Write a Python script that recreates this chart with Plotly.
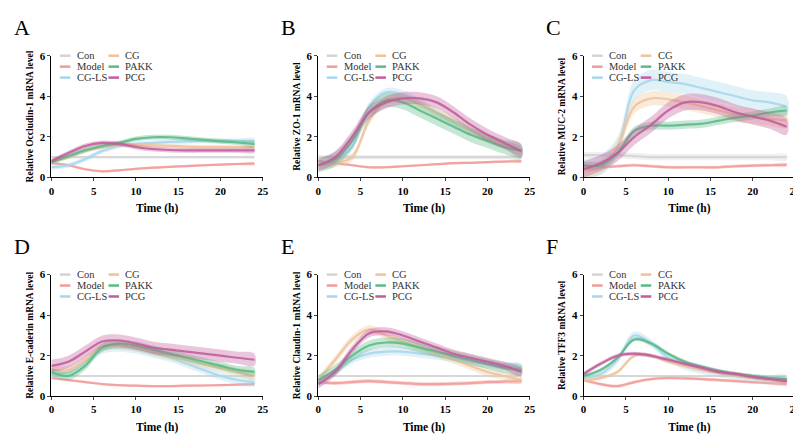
import plotly.graph_objects as go

TIME = [0, 2, 4, 6, 8, 10, 12, 14, 16, 18, 20, 22, 24]
GROUPS = ['Con', 'Model', 'CG-LS', 'CG', 'PAKK', 'PCG']
COLORS = {
    'Con': '#d4d4d4', 'Model': '#f19c99', 'CG-LS': '#a9d6ec',
    'CG': '#eec39a', 'PAKK': '#5cba88', 'PCG': '#c25d9c',
}
LETTERS = ['A', 'B', 'C', 'D', 'E', 'F']
GENES = ['Occludin-1', 'ZO-1', 'MUC-2', 'E-caderin', 'Claudin-1', 'TFF3']

CON = [1] * 13

occludin = {
    'Con': CON,
    'Model': [0.7, 0.6, 0.4, 0.3, 0.35, 0.42, 0.48, 0.52, 0.56, 0.6, 0.63, 0.66, 0.68],
    'CG-LS': [0.5, 0.6, 0.9, 1.3, 1.55, 1.65, 1.7, 1.75, 1.78, 1.8, 1.8, 1.8, 1.8],
    'CG': [0.8, 1.0, 1.3, 1.5, 1.6, 1.6, 1.58, 1.55, 1.52, 1.5, 1.5, 1.5, 1.5],
    'PAKK': [0.75, 1.05, 1.35, 1.55, 1.7, 1.9, 1.98, 1.98, 1.92, 1.85, 1.78, 1.72, 1.65],
    'PCG': [0.8, 1.2, 1.55, 1.7, 1.65, 1.5, 1.4, 1.35, 1.33, 1.33, 1.33, 1.33, 1.33],
}
zo1 = {
    'Con': CON,
    'Model': [0.8, 0.7, 0.6, 0.5, 0.5, 0.55, 0.6, 0.65, 0.7, 0.72, 0.75, 0.78, 0.8],
    'CG-LS': [0.6, 0.8, 1.5, 3.5, 4.2, 4.1, 3.7, 3.2, 2.7, 2.3, 1.9, 1.6, 1.3],
    'CG': [0.6, 0.7, 1.0, 2.8, 3.8, 3.9, 3.6, 3.2, 2.8, 2.3, 1.9, 1.6, 1.3],
    'PAKK': [0.6, 0.9, 1.8, 3.2, 3.8, 3.7, 3.3, 2.9, 2.5, 2.1, 1.8, 1.5, 1.3],
    'PCG': [0.6, 1.0, 2.0, 3.2, 3.7, 3.9, 3.9, 3.7, 3.2, 2.6, 2.1, 1.7, 1.3],
}
muc2 = {
    'Con': [1.1, 1.1, 1.1, 1.05, 1, 1, 1, 1, 1, 1, 1, 1, 1],
    'Model': [0.5, 0.5, 0.55, 0.6, 0.55, 0.5, 0.5, 0.5, 0.5, 0.55, 0.58, 0.6, 0.62],
    'CG-LS': [0.4, 0.6, 1.5, 4.3, 4.8, 4.7, 4.6, 4.4, 4.2, 4.0, 3.8, 3.7, 3.5],
    'CG': [0.3, 0.5, 1.5, 3.5, 3.9, 3.85, 3.7, 3.5, 3.3, 3.1, 3.0, 2.9, 2.8],
    'PAKK': [0.6, 0.6, 1.2, 2.3, 2.55, 2.55, 2.6, 2.65, 2.8, 2.95, 3.05, 3.2, 3.3],
    'PCG': [0.4, 0.7, 1.2, 2.0, 2.6, 3.3, 3.7, 3.7, 3.5, 3.2, 3.0, 2.8, 2.5],
}
ecad = {
    'Con': CON,
    'Model': [0.9, 0.8, 0.7, 0.6, 0.55, 0.52, 0.5, 0.5, 0.52, 0.53, 0.55, 0.57, 0.6],
    'CG-LS': [1.1, 1.2, 1.7, 2.3, 2.4, 2.3, 2.1, 1.9, 1.6, 1.3, 1.0, 0.8, 0.7],
    'CG': [1.3, 1.3, 1.8, 2.4, 2.5, 2.4, 2.2, 2.0, 1.8, 1.6, 1.4, 1.2, 1.0],
    'PAKK': [1.2, 1.0, 1.5, 2.4, 2.6, 2.5, 2.3, 2.1, 1.9, 1.7, 1.5, 1.3, 1.2],
    'PCG': [1.5, 1.7, 2.2, 2.7, 2.75, 2.6, 2.4, 2.3, 2.2, 2.1, 2.0, 1.9, 1.8],
}
claudin = {
    'Con': CON,
    'Model': [0.7, 0.65, 0.7, 0.75, 0.7, 0.65, 0.6, 0.6, 0.62, 0.65, 0.7, 0.72, 0.75],
    'CG-LS': [0.6, 1.2, 1.8, 2.1, 2.2, 2.2, 2.1, 2.0, 1.9, 1.7, 1.6, 1.5, 1.4],
    'CG': [0.8, 1.8, 2.8, 3.3, 3.0, 2.7, 2.4, 2.1, 1.8, 1.5, 1.2, 1.0, 0.8],
    'PAKK': [0.8, 1.3, 2.0, 2.5, 2.65, 2.6, 2.4, 2.2, 2.0, 1.8, 1.6, 1.4, 1.3],
    'PCG': [0.6, 1.2, 2.3, 3.1, 3.2, 3.0, 2.7, 2.4, 2.1, 1.9, 1.7, 1.5, 1.2],
}
tff3 = {
    'Con': CON,
    'Model': [0.8, 0.6, 0.5, 0.7, 0.85, 0.9, 0.88, 0.85, 0.8, 0.75, 0.7, 0.65, 0.6],
    'CG-LS': [0.9, 1.1, 1.8, 3.0, 2.6, 1.9, 1.5, 1.3, 1.15, 1.0, 0.9, 0.85, 0.8],
    'CG': [0.8, 0.9, 1.2, 2.0, 2.0, 1.7, 1.5, 1.3, 1.15, 1.0, 0.9, 0.8, 0.7],
    'PAKK': [1.0, 1.3, 1.9, 2.8, 2.6, 2.1, 1.7, 1.45, 1.25, 1.1, 1.0, 0.9, 0.85],
    'PCG': [1.1, 1.6, 2.0, 2.1, 2.0, 1.8, 1.6, 1.4, 1.2, 1.1, 0.95, 0.85, 0.75],
}
PANELS = [occludin, zo1, muc2, ecad, claudin, tff3]

# half-width of the shaded band for each group, per panel
SPREAD = [
    {'Con': 0.05, 'Model': 0.06, 'CG-LS': 0.12, 'CG': 0.1, 'PAKK': 0.12, 'PCG': 0.12},
    {'Con': 0.1, 'Model': 0.06, 'CG-LS': 0.2, 'CG': 0.2, 'PAKK': 0.35, 'PCG': 0.3},
    {'Con': 0.15, 'Model': 0.08, 'CG-LS': 0.5, 'CG': 0.35, 'PAKK': 0.2, 'PCG': 0.4},
    {'Con': 0.05, 'Model': 0.06, 'CG-LS': 0.2, 'CG': 0.2, 'PAKK': 0.2, 'PCG': 0.3},
    {'Con': 0.05, 'Model': 0.1, 'CG-LS': 0.2, 'CG': 0.2, 'PAKK': 0.25, 'PCG': 0.2},
    {'Con': 0.05, 'Model': 0.08, 'CG-LS': 0.2, 'CG': 0.1, 'PAKK': 0.1, 'PCG': 0.1},
]

X_DOMAINS = [[0.051, 0.318], [0.388, 0.655], [0.723, 0.99]]
Y_DOMAINS = [[0.62, 0.903], [0.111, 0.394]]
FONT = 'Liberation Serif'
# legend slots in axis-domain coords: (line start, text start, row y)
LEGEND_POS = {
    'Con': (0.04, 0.11, 1.0), 'Model': (0.04, 0.11, 0.91), 'CG-LS': (0.04, 0.11, 0.82),
    'CG': (0.27, 0.34, 1.0), 'PAKK': (0.27, 0.34, 0.91), 'PCG': (0.27, 0.34, 0.82),
}


def rgba(hex_color, alpha):
    h = hex_color.lstrip('#')
    r, g, b = (int(h[i:i + 2], 16) for i in (0, 2, 4))
    return f'rgba({r},{g},{b},{alpha})'


fig = go.Figure()
layout = {}
annotations = []
shapes = []

for i, data in enumerate(PANELS):
    n = '' if i == 0 else str(i + 1)
    xa, ya = 'x' + n, 'y' + n
    col, row = i % 3, i // 3

    for g in GROUPS:
        vals = data[g]
        sd = SPREAD[i][g]
        upper = [v + sd for v in vals]
        lower = [max(v - sd, 0) for v in vals]
        fig.add_trace(go.Scatter(
            x=TIME + TIME[::-1], y=upper + lower[::-1], fill='toself',
            fillcolor=rgba(COLORS[g], 0.35), line=dict(width=0, shape='spline'),
            mode='lines', showlegend=False, hoverinfo='skip', xaxis=xa, yaxis=ya,
        ))
        fig.add_trace(go.Scatter(
            x=TIME, y=vals, mode='lines', name=g, showlegend=False,
            line=dict(color=rgba(COLORS[g], 0.9), width=2.2, shape='spline'),
            xaxis=xa, yaxis=ya,
        ))
        lx, tx, ly = LEGEND_POS[g]
        shapes.append(dict(
            type='line', xref=xa + ' domain', yref=ya + ' domain',
            x0=lx, x1=lx + 0.05, y0=ly, y1=ly, line=dict(color=COLORS[g], width=2.5),
        ))
        annotations.append(dict(
            text=g, xref=xa + ' domain', yref=ya + ' domain', x=tx, y=ly,
            xanchor='left', yanchor='middle', showarrow=False,
            font=dict(family=FONT, size=10.5, color='#333'),
        ))

    xd, yd = X_DOMAINS[col], Y_DOMAINS[row]
    axis_font = dict(family=FONT, size=11, color='black', weight='bold')
    layout['xaxis' + n] = dict(
        domain=xd, anchor=ya, range=[0, 25], tickvals=[0, 5, 10, 15, 20, 25],
        showline=True, linecolor='black', linewidth=1, ticks='outside', ticklen=3,
        showgrid=False, zeroline=False, tickfont=axis_font,
        title=dict(text='<b>Time (h)</b>', font=dict(family=FONT, size=11.5, color='black'),
                   standoff=8),
    )
    layout['yaxis' + n] = dict(
        domain=yd, anchor=xa, range=[0, 6], tickvals=[0, 2, 4, 6],
        showline=True, linecolor='black', linewidth=1, ticks='outside', ticklen=3,
        showgrid=False, zeroline=False, tickfont=axis_font,
        title=dict(text=f'<b>Relative {GENES[i]} mRNA level</b>',
                   font=dict(family=FONT, size=9.5, color='black'), standoff=4),
    )
    annotations.append(dict(
        text=LETTERS[i], xref='paper', yref='paper', x=xd[0] - 0.05, y=yd[1] + 0.1,
        xanchor='left', yanchor='top', showarrow=False,
        font=dict(family=FONT, size=22, color='black'),
    ))

fig.update_layout(
    width=801, height=442, margin=dict(l=0, r=0, t=0, b=0), showlegend=False,
    plot_bgcolor='white', paper_bgcolor='white', annotations=annotations,
    shapes=shapes, **layout,
)
fig.write_html('out.html')
